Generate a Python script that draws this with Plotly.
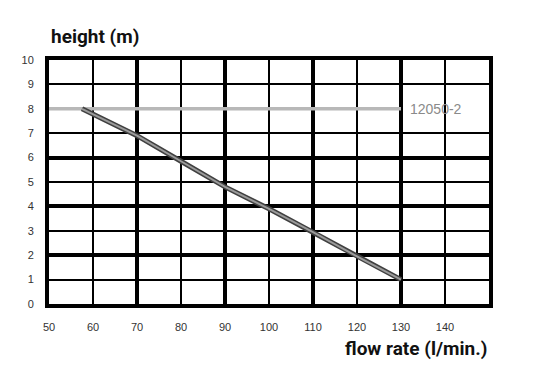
import plotly.graph_objects as go

# data
flow = [57.5, 70, 80, 90, 100, 110, 120, 130]
height = [8.0, 6.9, 5.85, 4.8, 3.9, 2.95, 1.95, 1.0]
ref_flow = [50, 130]
ref_height = [8, 8]
ref_label = "12050-2"
x_ticks = [50, 60, 70, 80, 90, 100, 110, 120, 130, 140]
y_ticks = list(range(0, 11))
x_major = [50, 70, 90, 110, 130, 150]
y_major = [0, 2, 4, 6, 10]
y_minor = [1, 3, 5, 7, 9]

fig = go.Figure()
# invisible trace so the primary axes get drawn
fig.add_trace(go.Scatter(x=[50, 150], y=[0, 10], mode="markers",
                         marker=dict(opacity=0), hoverinfo="skip"))
fig.add_trace(go.Scatter(x=[50], y=[0], mode="markers", marker=dict(opacity=0),
                         xaxis="x2", yaxis="y3", hoverinfo="skip"))
fig.add_trace(go.Scatter(x=ref_flow, y=ref_height, mode="lines",
                         line=dict(color="#b8b8b8", width=3.5),
                         xaxis="x2", yaxis="y2", hoverinfo="skip"))
fig.add_trace(go.Scatter(x=flow, y=height, mode="lines",
                         line=dict(color="#404040", width=5),
                         xaxis="x2", yaxis="y2", hoverinfo="skip"))
fig.add_trace(go.Scatter(x=flow, y=height, mode="lines",
                         line=dict(color="#9a9a9a", width=2),
                         xaxis="x2", yaxis="y2", hoverinfo="skip"))

tickfont = dict(family="Liberation Sans, Arial, sans-serif", size=11, color="#333333")
titlefont = dict(family="Roboto, Liberation Sans, sans-serif",
                 size=19, color="#111111", weight="bold")

fig.update_layout(
    template="none",
    width=534, height=379,
    margin=dict(l=49, r=45, t=60, b=75),
    paper_bgcolor="white", plot_bgcolor="white",
    font=dict(family="Liberation Sans, Arial, sans-serif", color="#333333"),
    showlegend=False,
    xaxis=dict(range=[50, 150], tickvals=x_ticks, showgrid=True, gridcolor="black",
               gridwidth=2, zeroline=False, showline=True, mirror=True,
               linecolor="black", linewidth=4, ticks="", tickfont=tickfont,
               ticklabelstandoff=10),
    yaxis=dict(range=[0, 10], tickvals=y_ticks, showgrid=False,
               zeroline=False, showline=True, mirror=True,
               linecolor="black", linewidth=4, ticks="", tickfont=tickfont,
               ticklabelstandoff=9),
    xaxis2=dict(range=[50, 150], overlaying="x", tickvals=x_major, showgrid=True,
                gridcolor="black", gridwidth=4, showticklabels=False, zeroline=False,
                ticks=""),
    yaxis2=dict(range=[0, 10], overlaying="y", tickvals=y_major, showgrid=True,
                gridcolor="black", gridwidth=4, showticklabels=False, zeroline=False,
                ticks=""),
    yaxis3=dict(range=[0, 10], overlaying="y", tickvals=y_minor, showgrid=True,
                gridcolor="black", gridwidth=2, showticklabels=False, zeroline=False,
                ticks=""),
    annotations=[
        dict(text="height (m)", xref="paper", yref="paper", x=0, y=1,
             xanchor="left", yanchor="bottom", yshift=10, showarrow=False,
             font=titlefont),
        dict(text="flow rate (l/min.)", xref="paper", yref="paper", x=1, y=0,
             xanchor="right", yanchor="top", yshift=-31, showarrow=False,
             font=titlefont),
        dict(text=ref_label, x=ref_flow[-1], y=ref_height[-1], xref="x2", yref="y2",
             xanchor="left", yanchor="middle", xshift=7, showarrow=False,
             font=dict(family="Liberation Sans, Arial, sans-serif", size=14,
                       color="#8a8a8a")),
    ],
)

fig.write_html("out.html", config={"displayModeBar": False},
               post_script="document.body.style.margin='0';")
